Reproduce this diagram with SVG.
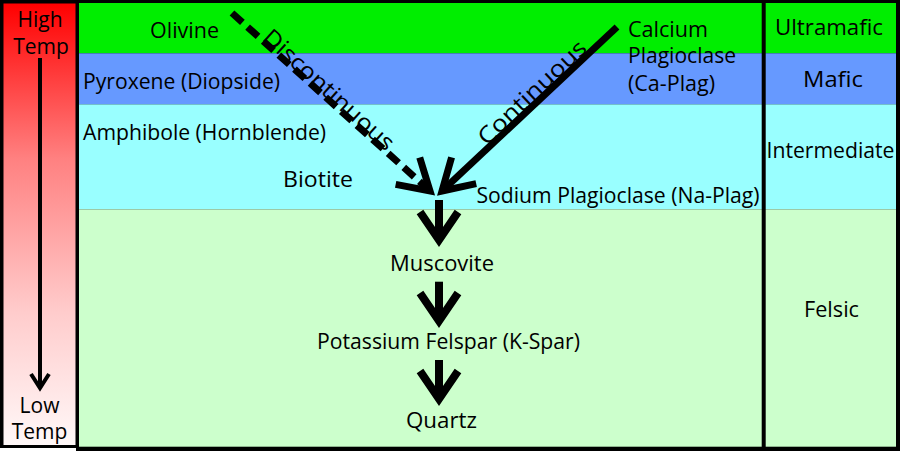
<svg xmlns="http://www.w3.org/2000/svg" width="900" height="451" viewBox="0 0 900 451">
  <style>
    text { font-family: "Open Sans", "DejaVu Sans", sans-serif; font-size: 21px; fill: #000; }
    .mid { text-anchor: middle; }
    .rot { font-size: 23px; text-anchor: middle; }
    .big { fill: none; stroke: #000; stroke-width: 8; }
    .diag { fill: none; stroke: #000; stroke-width: 7; }
    .dash { stroke-dasharray: 14 7; }
    .thin { fill: none; stroke: #000; stroke-width: 4; }
  </style>
  <defs>
    <linearGradient id="temp" x1="0" y1="0" x2="0" y2="1">
      <stop offset="0" stop-color="#ff0000"/>
      <stop offset="0.35" stop-color="#ff8080"/>
      <stop offset="0.7" stop-color="#ffcccc"/>
      <stop offset="1" stop-color="#fff8f8"/>
    </linearGradient>
    <marker id="head" markerUnits="userSpaceOnUse" markerWidth="60" markerHeight="60" viewBox="-40 -30 50 60" refX="0" refY="0" orient="auto" overflow="visible">
      <path d="M -30 -18 L 0 0 L -30 18" fill="none" stroke="#000" stroke-width="7" stroke-dasharray="none"/>
    </marker>
    <marker id="vhead" markerUnits="userSpaceOnUse" markerWidth="60" markerHeight="60" viewBox="-40 -30 50 60" refX="0" refY="0" orient="auto" overflow="visible">
      <path d="M -28 -19 L 0 0 L -28 19" fill="none" stroke="#000" stroke-width="8"/>
    </marker>
    <marker id="small" markerUnits="userSpaceOnUse" markerWidth="30" markerHeight="30" viewBox="-20 -15 25 30" refX="0" refY="0" orient="auto" overflow="visible">
      <path d="M -14 -9 L 0 0 L -14 9" fill="none" stroke="#000" stroke-width="4"/>
    </marker>
  </defs>

  <rect x="0" y="0" width="900" height="451" fill="#ffffff"/>

  <!-- Temperature column -->
  <g id="temperature-scale">
    <rect x="0" y="0" width="78" height="448" fill="#000"/>
    <rect x="3.5" y="3.5" width="72" height="441.5" fill="url(#temp)"/>
    <text class="mid" x="40" y="26.5">High</text>
    <text class="mid" x="41" y="53.5">Temp</text>
    <text class="mid" x="39.5" y="412.5">Low</text>
    <text class="mid" x="39.5" y="439">Temp</text>
  </g>

  <!-- Main panel with bands -->
  <g id="bands">
    <rect x="76" y="0" width="824" height="451" fill="#000"/>
    <rect x="79" y="3" width="817" height="50.3" fill="#00ee00"/>
    <rect x="79" y="53.3" width="817" height="51" fill="#6699ff"/>
    <rect x="79" y="104.3" width="817" height="105" fill="#99ffff"/>
    <rect x="79" y="209.3" width="817" height="237.4" fill="#ccffcc"/>
    <rect x="761.7" y="0" width="4" height="451" fill="#000"/>
  </g>

  <!-- Connectors -->
  <g id="connectors">
    <line class="thin" x1="40" y1="58" x2="40" y2="388" marker-end="url(#small)"/>
    <line class="diag dash" x1="232" y1="13" x2="430" y2="191" marker-end="url(#head)"/>
    <line class="diag" x1="617" y1="27" x2="442" y2="191" marker-end="url(#head)"/>
    <line class="big" x1="439" y1="200" x2="439" y2="240" marker-end="url(#vhead)"/>
    <line class="big" x1="439" y1="281.7" x2="439" y2="321" marker-end="url(#vhead)"/>
    <line class="big" x1="439" y1="360" x2="439" y2="399" marker-end="url(#vhead)"/>
    <text class="rot" x="323.5" y="95.7" transform="rotate(42.1 323.5 95.7)" textLength="168" lengthAdjust="spacingAndGlyphs">Discontinuous</text>
    <text class="rot" x="537.5" y="98.2" transform="rotate(-43.5 537.5 98.2)" textLength="140" lengthAdjust="spacingAndGlyphs">Continuous</text>
  </g>

  <!-- Mineral nodes -->
  <g id="olivine"><text x="150" y="38" textLength="69" lengthAdjust="spacingAndGlyphs">Olivine</text></g>
  <g id="pyroxene"><text x="83" y="89" textLength="197" lengthAdjust="spacingAndGlyphs">Pyroxene (Diopside)</text></g>
  <g id="amphibole"><text x="83" y="140" textLength="243" lengthAdjust="spacingAndGlyphs">Amphibole (Hornblende)</text></g>
  <g id="biotite"><text x="283" y="187" textLength="70" lengthAdjust="spacingAndGlyphs">Biotite</text></g>
  <g id="calcium-plagioclase">
    <text x="628" y="36.7" textLength="80" lengthAdjust="spacingAndGlyphs">Calcium</text>
    <text x="628" y="63.3" textLength="108" lengthAdjust="spacingAndGlyphs">Plagioclase</text>
    <text x="628" y="90.5" textLength="87" lengthAdjust="spacingAndGlyphs">(Ca-Plag)</text>
  </g>
  <g id="sodium-plagioclase"><text x="476.5" y="203" textLength="283" lengthAdjust="spacingAndGlyphs">Sodium Plagioclase (Na-Plag)</text></g>
  <g id="muscovite"><text x="390" y="271" textLength="104" lengthAdjust="spacingAndGlyphs">Muscovite</text></g>
  <g id="k-feldspar"><text x="317" y="348.5" textLength="263" lengthAdjust="spacingAndGlyphs">Potassium Felspar (K-Spar)</text></g>
  <g id="quartz"><text x="406" y="428" textLength="71" lengthAdjust="spacingAndGlyphs">Quartz</text></g>

  <!-- Rock type nodes -->
  <g id="ultramafic"><text x="775" y="35" textLength="108" lengthAdjust="spacingAndGlyphs">Ultramafic</text></g>
  <g id="mafic"><text x="803" y="87.3" textLength="60" lengthAdjust="spacingAndGlyphs">Mafic</text></g>
  <g id="intermediate"><text x="766.5" y="158.3" textLength="128" lengthAdjust="spacingAndGlyphs">Intermediate</text></g>
  <g id="felsic"><text x="804" y="317" textLength="55" lengthAdjust="spacingAndGlyphs">Felsic</text></g>
</svg>
